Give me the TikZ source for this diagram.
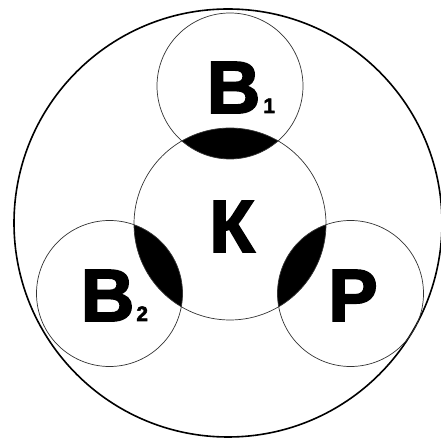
\documentclass[tikz,border=0pt]{standalone}
\usepackage{fontspec}
\newfontfamily\heavyfont{Liberation Sans Bold}[FakeBold=2.5]
\newcommand{\idxfont}{\heavyfont\fontsize{21}{21}\selectfont}
\usetikzlibrary{positioning}
\tikzset{
  outer/.style={circle, draw=black, line width=1.6pt, minimum size=428pt, inner sep=0pt},
  zone/.style={circle, draw=black!80, line width=0.7pt, minimum size=146pt, inner sep=0pt},
  core/.style={circle, draw=black!80, line width=0.7pt, minimum size=192pt, inner sep=0pt},
  letter/.style={anchor=base, inner sep=0pt, font=\heavyfont\fontsize{74}{74}\selectfont}
}
\begin{document}
\begin{tikzpicture}[x=1pt, y=1pt]
  \useasboundingbox (0,0) rectangle (440,441);
  % centres of the circles
  \coordinate (c0) at (228,218);
  \coordinate (ck) at (230,217);
  \coordinate (cb1) at (230,355);
  \coordinate (cb2) at (109.5,147.5);
  \coordinate (cp) at (350.5,147.5);

  % black overlaps with the middle circle
  \foreach \c in {cb1, cb2, cp} {
    \begin{scope}
      \clip (ck) circle (96);
      \fill[black] (\c) circle (73);
    \end{scope}
  }

  \node[outer] (big) at (c0) {};
  \node[core] (k) at (ck) {};
  \node[zone] (b1) at (cb1) {};
  \node[zone] (b2) at (cb2) {};
  \node[zone] (p) at (cp) {};

  \node[letter] (tb1) at ([xshift=11pt, yshift=-27pt]b1.center) {В\kern3pt{\idxfont 1}};
  \node[letter] (tk) at ([xshift=2pt, yshift=-28pt]k.center) {К};
  \node[letter] (tb2) at ([xshift=5pt, yshift=-27.5pt]b2.center) {В\kern2pt{\idxfont 2}};
  \node[letter] (tp) at ([xshift=2.5pt, yshift=-27.5pt]p.center) {Р};
\end{tikzpicture}
\end{document}
